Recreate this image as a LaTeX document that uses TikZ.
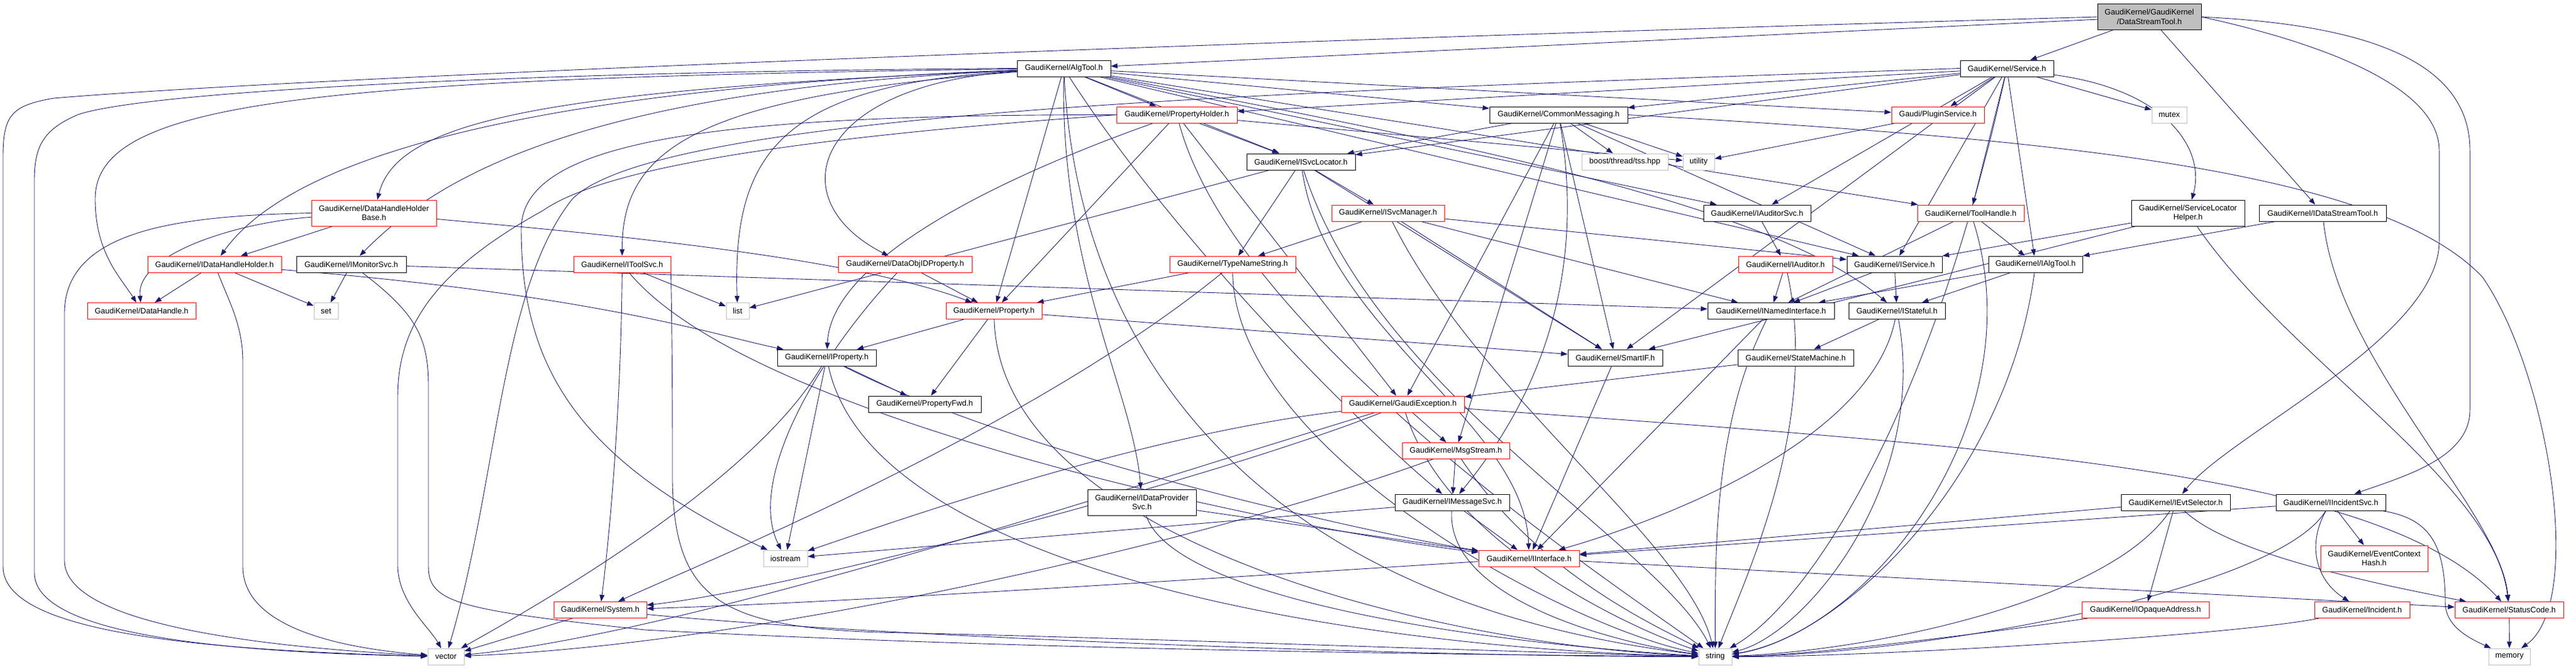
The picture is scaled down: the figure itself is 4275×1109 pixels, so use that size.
\documentclass[tikz,border=0pt]{standalone}
\usepackage{fontspec}
\setmainfont{Liberation Sans}
\usetikzlibrary{arrows.meta}
\definecolor{edgeblue}{RGB}{25,25,112}
\definecolor{grayb}{RGB}{191,191,191}
\pgfdeclarelayer{bg}
\pgfsetlayers{bg,main}
\begin{document}
\begin{tikzpicture}[x=1pt,y=1pt,
  box/.style={rectangle, draw, line width=1pt, fill=white, inner sep=0pt, minimum height=27pt, font=\fontsize{13}{15.5}\selectfont, text=black},
  nb/.style={box, draw=black},
  nr/.style={box, draw=red},
  ng/.style={box, draw=grayb},
  two/.style={minimum height=43pt, align=center},
  e/.style={draw=edgeblue, line width=0.9pt, -{Triangle[length=11pt,width=8pt]}},
]
\useasboundingbox (0,0) rectangle (4275,-1109);

\node[nb, fill=grayb, two, minimum width=172pt] (T) at (3567,-28) {GaudiKernel/GaudiKernel\\/DataStreamTool.h};
\node[nb, minimum width=155pt] (AT) at (1765.5,-113.5) {GaudiKernel/AlgTool.h};
\node[nb, minimum width=155pt] (SV) at (3330.5,-113.5) {GaudiKernel/Service.h};
\node[nr, minimum width=200pt] (PH) at (1953,-190.5) {GaudiKernel/PropertyHolder.h};
\node[nb, minimum width=229pt] (CM) at (2586.5,-190.5) {GaudiKernel/CommonMessaging.h};
\node[nr, minimum width=154pt] (PS) at (3216,-190.5) {Gaudi/PluginService.h};
\node[ng, minimum width=58pt] (MX) at (3600,-190.5) {mutex};
\node[nr, two, minimum width=207pt] (DHHB) at (620.5,-353.5) {GaudiKernel/DataHandleHolder\\Base.h};
\node[nb, minimum width=180pt] (ISL) at (2159,-268.5) {GaudiKernel/ISvcLocator.h};
\node[ng, minimum width=143pt] (BT) at (2696.5,-268.5) {boost/thread/tss.hpp};
\node[ng, minimum width=52pt] (UT) at (2819,-268.5) {utility};
\node[nr, minimum width=187pt] (ISM) at (2303.5,-353.5) {GaudiKernel/ISvcManager.h};
\node[nb, minimum width=178pt] (IAS) at (2916,-353.5) {GaudiKernel/IAuditorSvc.h};
\node[nr, minimum width=177pt] (TH) at (3270.5,-353.5) {GaudiKernel/ToolHandle.h};
\node[nb, two, minimum width=188pt] (SLH) at (3631,-353.5) {GaudiKernel/ServiceLocator\\Helper.h};
\node[nb, minimum width=211pt] (IDST) at (3854.5,-353.5) {GaudiKernel/IDataStreamTool.h};
\node[nr, minimum width=222pt] (IDHH) at (356,-438.5) {GaudiKernel/IDataHandleHolder.h};
\node[nb, minimum width=182pt] (IMS) at (583,-438.5) {GaudiKernel/IMonitorSvc.h};
\node[nr, minimum width=161pt] (ITS) at (1032.5,-438.5) {GaudiKernel/IToolSvc.h};
\node[nr, minimum width=222pt] (DOP) at (1502,-438.5) {GaudiKernel/DataObjIDProperty.h};
\node[nr, minimum width=209pt] (TNS) at (2045.5,-438.5) {GaudiKernel/TypeNameString.h};
\node[nr, minimum width=156pt] (IA) at (2963,-438.5) {GaudiKernel/IAuditor.h};
\node[nb, minimum width=158pt] (IS) at (3144,-438.5) {GaudiKernel/IService.h};
\node[nb, minimum width=156pt] (IAT) at (3378,-438.5) {GaudiKernel/IAlgTool.h};
\node[nr, minimum width=180pt] (DH) at (235,-516) {GaudiKernel/DataHandle.h};
\node[ng, minimum width=40pt] (SET) at (541,-516) {set};
\node[ng, minimum width=38pt] (LST) at (1224,-516) {list};
\node[nr, minimum width=159pt] (PR) at (1649.5,-516) {GaudiKernel/Property.h};
\node[nb, minimum width=210pt] (INI) at (2939,-516) {GaudiKernel/INamedInterface.h};
\node[nb, minimum width=160pt] (IST) at (3148,-516) {GaudiKernel/IStateful.h};
\node[nb, minimum width=164pt] (IP) at (1372,-593.5) {GaudiKernel/IProperty.h};
\node[nb, minimum width=157pt] (SIF) at (2680.5,-593.5) {GaudiKernel/SmartIF.h};
\node[nb, minimum width=192pt] (SM) at (2980,-593.5) {GaudiKernel/StateMachine.h};
\node[nb, minimum width=187pt] (PF) at (1534.5,-670.5) {GaudiKernel/PropertyFwd.h};
\node[nr, minimum width=204pt] (GE) at (2328,-670.5) {GaudiKernel/GaudiException.h};
\node[nr, minimum width=178pt] (MS) at (2416,-748) {GaudiKernel/MsgStream.h};
\node[nb, two, minimum width=180pt] (IDPS) at (1895,-833.5) {GaudiKernel/IDataProvider\\Svc.h};
\node[nb, minimum width=190pt] (IMSG) at (2410,-833.5) {GaudiKernel/IMessageSvc.h};
\node[nb, minimum width=181pt] (IES) at (3610.5,-833.5) {GaudiKernel/IEvtSelector.h};
\node[nb, minimum width=182pt] (IIS) at (3868,-833.5) {GaudiKernel/IIncidentSvc.h};
\node[ng, minimum width=73pt] (IOS) at (1303.5,-926.5) {iostream};
\node[nr, minimum width=167pt] (II) at (2537.5,-926.5) {GaudiKernel/IInterface.h};
\node[nr, two, minimum width=178pt] (ECH) at (3940,-926.5) {GaudiKernel/EventContext\\Hash.h};
\node[nr, minimum width=154pt] (SYS) at (996,-1012) {GaudiKernel/System.h};
\node[nr, minimum width=211pt] (IOA) at (3560.5,-1012) {GaudiKernel/IOpaqueAddress.h};
\node[nr, minimum width=158pt] (INC) at (3920,-1012) {GaudiKernel/Incident.h};
\node[nr, minimum width=180pt] (SC) at (4164,-1012) {GaudiKernel/StatusCode.h};
\node[ng, minimum width=60pt] (VEC) at (740,-1089.5) {vector};
\node[ng, minimum width=55pt] (STR) at (2846.5,-1089.5) {string};
\node[ng, minimum width=69pt] (MEM) at (4164.5,-1089.5) {memory};

\begin{pgfonlayer}{bg}
% top node
\draw[e] (T) -- (AT);
\draw[e] (T) -- (SV);
\draw[e] (T) -- (IDST);
\draw[e] (T.east) .. controls (3800,-60) and (4048,-130) .. (4048,-250) -- (4048,-400) .. controls (4048,-560) and (3700,-720) .. (IES);
\draw[e] (T.east) .. controls (3900,-40) and (4099,-90) .. (4099,-250) -- (4099,-680) .. controls (4099,-760) and (3990,-790) .. (IIS);
\draw[e] (T.west) .. controls (2500,-55) and (600,-120) .. (89,-163) .. controls (20,-175) and (5,-190) .. (5,-260) -- (5,-940) .. controls (5,-1045) and (300,-1078) .. (VEC);
% AlgTool
\draw[e] (AT) -- (PH);
\draw[e] (AT) -- (CM);
\draw[e] (AT) -- (ISL);
\draw[e] (AT) -- (PS);
\draw[e] (AT) .. controls (900,-150) and (660,-200) .. (DHHB);
\draw[e] (AT) .. controls (800,-150) and (470,-280) .. (IDHH);
\draw[e] (AT) .. controls (500,-130) and (158,-170) .. (158,-330) .. controls (158,-420) and (200,-460) .. (DH);
\draw[e] (AT) .. controls (950,-150) and (720,-300) .. (IMS);
\draw[e] (AT) .. controls (1150,-160) and (1032,-250) .. (ITS);
\draw[e] (AT) .. controls (1300,-140) and (1215,-250) .. (LST);
\draw[e] (AT) .. controls (1350,-140) and (1290,-330) .. (DOP);
\draw[e] (AT) -- (PR);
\draw[e] (AT) .. controls (1760,-450) and (1880,-650) .. (IDPS);
\draw[e] (AT) .. controls (1950,-400) and (2250,-700) .. (IMSG);
\draw[e] (AT) -- (IAS);
\draw[e] (AT) -- (IS);
\draw[e] (AT) .. controls (2500,-250) and (2950,-350) .. (IST);
\draw[e] (AT) -- (TH);
\draw[e] (AT.west) .. controls (900,-118) and (250,-150) .. (130,-190) .. controls (70,-215) and (57,-245) .. (57,-300) -- (57,-950) .. controls (57,-1050) and (350,-1082) .. (VEC);
\draw[e] (AT) .. controls (1790,-600) and (2100,-1000) .. (STR);
% Service
\draw[e] (SV) -- (PH);
\draw[e] (SV) -- (CM);
\draw[e] (SV) -- (ISL);
\draw[e] (SV) -- (PS);
\draw[e] (SV) -- (MX);
\draw[e] (SV) -- (IAS);
\draw[e] (SV) -- (TH);
\draw[e] (SV) .. controls (3600,-150) and (3660,-250) .. (SLH);
\draw[e] (SV) -- (IS);
\draw[e] (SV) -- (SIF);
\draw[e] (SV) -- (IAT);
\draw[e] (SV.west) .. controls (2200,-150) and (1100,-180) .. (950,-330) .. controls (830,-480) and (826,-800) .. (VEC);
\draw[e] (SV) .. controls (3200,-700) and (3000,-1000) .. (STR);
% PropertyHolder
\draw[e] (PH) -- (ISL);
\draw[e] (PH) -- (UT);
\draw[e] (PH) .. controls (1700,-280) and (1380,-420) .. (IP);
\draw[e] (PH) -- (PR);
\draw[e] (PH) -- (GE);
\draw[e] (PH.west) .. controls (1300,-230) and (1000,-280) .. (900,-350) .. controls (700,-460) and (660,-560) .. (660,-660) -- (660,-940) .. controls (662,-1000) and (712,-1040) .. (VEC);
\draw[e] (PH.west) .. controls (1200,-190) and (865,-230) .. (865,-380) .. controls (865,-600) and (950,-760) .. (IOS);
\draw[e] (PH) .. controls (2050,-550) and (2650,-950) .. (STR);
% CommonMessaging
\draw[e] (CM) -- (ISL);
\draw[e] (CM) -- (BT);
\draw[e] (CM) -- (UT);
\draw[e] (CM) -- (GE);
\draw[e] (CM) -- (MS);
\draw[e] (CM) .. controls (2640,-500) and (2520,-700) .. (IMSG);
\draw[e] (CM) -- (SIF);
\draw[e] (CM) -- (IS);
\draw[e] (CM.east) .. controls (3400,-230) and (3950,-280) .. (4120,-460) .. controls (4230,-620) and (4290,-1000) .. (MEM);
\draw[e] (PS) -- (UT);
% DataHandleHolderBase
\draw[e] (DHHB) -- (IDHH);
\draw[e] (DHHB) .. controls (400,-368) and (225,-420) .. (DH);
\draw[e] (DHHB.west) .. controls (300,-358) and (107,-380) .. (107,-520) -- (107,-930) .. controls (107,-1030) and (400,-1072) .. (VEC);
\draw[e] (DHHB) .. controls (900,-380) and (1400,-420) .. (PR);
% IDataHandleHolder
\draw[e] (IDHH) -- (DH);
\draw[e] (IDHH) -- (SET);
\draw[e] (IDHH) .. controls (1000,-490) and (1200,-560) .. (IP);
\draw[e] (IDHH) .. controls (380,-500) and (403,-540) .. (403,-600) -- (403,-940) .. controls (403,-1040) and (560,-1075) .. (VEC);
% IMonitorSvc
\draw[e] (IMS) -- (SET);
\draw[e] (IMS) -- (INI);
\draw[e] (IMS) .. controls (690,-520) and (711,-560) .. (711,-640) -- (711,-940) .. controls (711,-1000) and (760,-1012) .. (1070,-1045) .. controls (1700,-1078) and (2400,-1086) .. (STR);
% IToolSvc
\draw[e] (ITS) -- (LST);
\draw[e] (ITS) .. controls (1030,-700) and (1010,-900) .. (SYS);
\draw[e] (ITS) .. controls (1250,-700) and (2150,-880) .. (II);
\draw[e] (ITS.south east) .. controls (1116,-600) and (1116,-700) .. (1116,-800) .. controls (1120,-1000) and (1200,-1045) .. (1500,-1050) .. controls (2000,-1062) and (2500,-1082) .. (STR);
% DataObjIDProperty, TypeNameString
\draw[e] (DOP) -- (PR);
\draw[e] (DOP) .. controls (1350,-600) and (1240,-800) .. (IOS);
\draw[e] (TNS) -- (PR);
\draw[e] (TNS) .. controls (1700,-720) and (1150,-940) .. (SYS);
\draw[e] (TNS) .. controls (2050,-750) and (2600,-1040) .. (STR);
% ISvcLocator, ISvcManager
\draw[e] (ISL) -- (ISM);
\draw[e] (ISL) -- (TNS);
\draw[e] (ISL) -- (LST);
\draw[e] (ISL) -- (SIF);
\draw[e] (ISL) .. controls (2200,-550) and (2530,-700) .. (II);
\draw[e] (ISL) .. controls (2280,-650) and (2750,-900) .. (STR);
\draw[e] (ISM) -- (TNS);
\draw[e] (ISM) -- (IS);
\draw[e] (ISM) -- (INI);
\draw[e] (ISM) -- (SIF);
\draw[e] (ISM) .. controls (2450,-650) and (2800,-900) .. (STR);
% auditors, services, tools
\draw[e] (IAS) -- (IA);
\draw[e] (IA) -- (INI);
\draw[e] (IA) .. controls (3020,-700) and (2900,-950) .. (STR);
\draw[e] (IS) -- (INI);
\draw[e] (IS) -- (IST);
\draw[e] (IAT) -- (INI);
\draw[e] (IAT) -- (IST);
\draw[e] (IAT) .. controls (3330,-800) and (3050,-1060) .. (STR);
\draw[e] (TH) -- (IAT);
\draw[e] (TH) -- (INI);
\draw[e] (TH) .. controls (3380,-700) and (3100,-1050) .. (STR);
\draw[e] (SLH) -- (SIF);
\draw[e] (SLH) -- (IS);
\draw[e] (SLH) .. controls (3800,-600) and (4140,-800) .. (SC);
\draw[e] (IDST) -- (IAT);
\draw[e] (IDST) .. controls (3880,-600) and (4150,-850) .. (SC);
% Property, IProperty
\draw[e] (PR) -- (IP);
\draw[e] (PR) -- (PF);
\draw[e] (PR) -- (SIF);
\draw[e] (PR) .. controls (1660,-900) and (2400,-1072) .. (STR);
\draw[e] (IP) -- (PF);
\draw[e] (IP) -- (IOS);
\draw[e] (IP) .. controls (1250,-800) and (900,-1000) .. (VEC);
\draw[e] (IP) .. controls (1700,-760) and (2300,-890) .. (II);
\draw[e] (IP) .. controls (1450,-960) and (2300,-1078) .. (STR);
% interfaces
\draw[e] (INI) -- (II);
\draw[e] (INI) .. controls (2846,-700) and (2846,-900) .. (STR);
\draw[e] (IST) -- (SM);
\draw[e] (IST) .. controls (3100,-750) and (2700,-880) .. (II);
\draw[e] (IST) .. controls (3200,-800) and (3000,-1050) .. (STR);
\draw[e] (SIF) -- (II);
\draw[e] (SM) -- (GE);
% GaudiException, MsgStream, IMessageSvc
\draw[e] (GE) -- (MS);
\draw[e] (GE) .. controls (1900,-720) and (1500,-860) .. (IOS);
\draw[e] (GE) .. controls (1900,-800) and (1150,-1050) .. (VEC);
\draw[e] (GE) .. controls (2000,-800) and (1300,-980) .. (SYS);
\draw[e] (GE) .. controls (3300,-740) and (3950,-780) .. (SC);
\draw[e] (GE) .. controls (2400,-900) and (2700,-1040) .. (STR);
\draw[e] (MS) -- (IMSG);
\draw[e] (MS) .. controls (2000,-900) and (1250,-1070) .. (VEC);
\draw[e] (MS) .. controls (2550,-950) and (2750,-1040) .. (STR);
\draw[e] (IMSG) -- (II);
\draw[e] (IMSG) -- (IOS);
\draw[e] (IMSG) .. controls (2400,-1000) and (2700,-1070) .. (STR);
\draw[e] (IDPS) -- (II);
\draw[e] (IDPS) .. controls (1950,-1000) and (2500,-1070) .. (STR);
% event selector, incidents
\draw[e] (IES) -- (II);
\draw[e] (IES) -- (IOA);
\draw[e] (IES) .. controls (3700,-920) and (3950,-970) .. (SC);
\draw[e] (IES) .. controls (3500,-1000) and (3100,-1080) .. (STR);
\draw[e] (IIS) -- (II);
\draw[e] (IIS) -- (ECH);
\draw[e] (IIS) .. controls (3830,-900) and (3840,-960) .. (INC);
\draw[e] (IIS) .. controls (4030,-860) and (4058,-900) .. (4058,-1000) .. controls (4058,-1040) and (4100,-1060) .. (MEM);
\draw[e] (IIS) .. controls (3780,-980) and (3200,-1085) .. (STR);
% bottom
\draw[e] (II) .. controls (2000,-960) and (1400,-1000) .. (SYS);
\draw[e] (II) -- (SC);
\draw[e] (SYS) -- (VEC);
\draw[e] (SYS) .. controls (1500,-1060) and (2400,-1090) .. (STR);
\draw[e] (IOA) .. controls (3300,-1050) and (3000,-1088) .. (STR);
\draw[e] (INC) .. controls (3700,-1055) and (3100,-1090) .. (STR);
\draw[e] (SC) -- (MEM);
\end{pgfonlayer}
\end{tikzpicture}
\end{document}
